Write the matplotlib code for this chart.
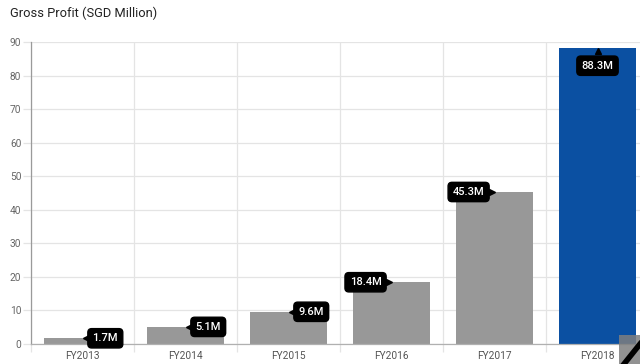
import matplotlib
matplotlib.use("Agg")
import matplotlib.pyplot as plt
import matplotlib.transforms as mtransforms
from matplotlib.patches import Rectangle
from matplotlib.lines import Line2D

plt.rcParams['font.family'] = ['Roboto', 'DejaVu Sans']

categories = ["FY2013", "FY2014", "FY2015", "FY2016", "FY2017", "FY2018"]
values = [1.7, 5.1, 9.6, 18.4, 45.3, 88.3]
labels = ["1.7M", "5.1M", "9.6M", "18.4M", "45.3M", "88.3M"]
label_side = ["right", "right", "right", "left", "left", "below"]
colors = ["#989898"] * 5 + ["#0b50a2"]
yticks = [0, 10, 20, 30, 40, 50, 60, 70, 80, 90]

W, H = 640, 364
fig = plt.figure(figsize=(W / 100, H / 100), dpi=100)
ax = fig.add_axes([31 / W, (H - 344) / H, (W - 31) / W, (344 - 42) / H])

x = list(range(len(categories)))
ax.bar(x, values, width=0.74, color=colors, zorder=2)

ax.set_yticks(yticks)
ax.set_yticklabels([str(t) for t in yticks])
ax.set_xticks([i - 0.5 for i in range(7)], minor=False)
ax.set_xticklabels([""] * 7)
ax.set_xticks(x, minor=True)
ax.set_xticklabels(categories, minor=True)
ax.set_xlim(-0.5, -0.5 + (W - 31) / 103)
ax.set_ylim(0, 90)

grid_c = "#e4e4e4"
ax.grid(True, axis='both', which='major', color=grid_c, linewidth=0.9, zorder=0)
ax.tick_params(axis='x', which='major', length=6, color=grid_c, width=0.9)
ax.tick_params(axis='x', which='minor', length=0, pad=5, labelsize=7.3, labelcolor="#555555")
ax.tick_params(axis='y', length=6, color=grid_c, width=0.9, pad=1, labelsize=7.3, labelcolor="#666666")

for s in ['top', 'right']:
    ax.spines[s].set_visible(False)
ax.spines['left'].set_color("#9a9a9a")
ax.spines['left'].set_linewidth(0.9)
ax.spines['bottom'].set_color("#b0b0b0")
ax.spines['bottom'].set_linewidth(0.9)
ax.set_axisbelow(True)

fig.text(10 / W, 1 - 13 / H, "Gross Profit (SGD Million)", fontsize=9.3,
         color="#222222", va='center', ha='left')

px = 72 / 100.0  # points per pixel
bbox = dict(boxstyle="round,pad=0.42,rounding_size=0.35", fc="black", ec="black")
for i, (v, lab, side) in enumerate(zip(values, labels, label_side)):
    if side == "right":
        dx, dy, ha, va, mk, mdx, mdy = 10, 0, 'left', 'center', '<', 3, 0
    elif side == "left":
        dx, dy, ha, va, mk, mdx, mdy = -10, 0, 'right', 'center', '>', -3, 0
    else:
        dx, dy, ha, va, mk, mdx, mdy = 0, -13, 'center', 'top', '^', 0, -3
    ax.annotate(lab, xy=(i, v), xytext=(dx * px, dy * px), textcoords='offset points',
                ha=ha, va=va, color='white', fontsize=8, fontweight='medium',
                bbox=bbox, zorder=5, annotation_clip=False)
    tr = ax.transData + mtransforms.ScaledTranslation(mdx / 100, mdy / 100, fig.dpi_scale_trans)
    ax.plot([i], [v], marker=mk, ms=5, color='black', transform=tr, zorder=5, clip_on=False)

# corner resize-handle artifact
fig.patches.append(Rectangle((619 / W, 0), 21 / W, 29 / H, transform=fig.transFigure,
                             facecolor="#7f7f7f", alpha=0.85, zorder=10))
fig.lines.append(Line2D([624 / W, 640 / W], [0, 20 / H], transform=fig.transFigure,
                        color="black", linewidth=4, zorder=11))

fig.savefig("out.png", dpi=100)
